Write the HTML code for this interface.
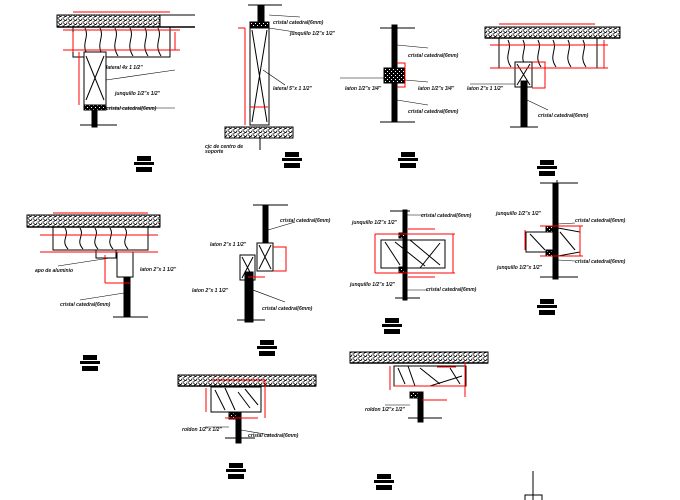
<!DOCTYPE html>
<html><head><meta charset="utf-8">
<style>
html,body{margin:0;padding:0;background:#fff;}
svg{display:block;}
text{font-family:"Liberation Sans",sans-serif;font-size:5px;font-style:italic;font-weight:bold;fill:#111;}
</style></head>
<body>
<svg width="680" height="500" viewBox="0 0 680 500" xmlns="http://www.w3.org/2000/svg">
<defs>
<pattern id="st" width="5" height="4" patternUnits="userSpaceOnUse">
<rect width="5" height="4" fill="#fff"/>
<rect x="0" y="0" width="1.5" height="1" fill="#000"/><rect x="2.5" y="1.5" width="1.5" height="1" fill="#000"/>
<rect x="1" y="2.8" width="1.2" height="1" fill="#000"/><rect x="4" y="0.3" width="1" height="1.2" fill="#000"/>
<rect x="3.5" y="3" width="1" height="1" fill="#000"/>
</pattern>
<pattern id="st2" width="4" height="4" patternUnits="userSpaceOnUse">
<rect width="4" height="4" fill="#000"/><rect x="1" y="1" width="1" height="1" fill="#fff"/><rect x="3" y="3" width="1" height="1" fill="#fff"/>
</pattern>
<g id="tb"><rect x="3" y="0" width="14" height="5" fill="#000"/><rect x="0" y="6" width="20" height="3" fill="#000"/><rect x="2" y="11" width="16" height="5" fill="#000"/></g>
</defs>
<g fill="none" stroke="#000" stroke-width="1">

<!-- Detail 1 -->
<rect x="57" y="15" width="103" height="12" fill="url(#st)"/>
<line x1="57" y1="27" x2="195" y2="27" stroke-width="1.4"/>
<line x1="57" y1="15" x2="195" y2="15"/>
<rect x="73" y="27" width="97" height="30"/>
<path d="M85 28c5 10-5 15 3 28M100 28c5 10-5 15 3 28M115 28c5 10-5 15 3 28M130 28c5 10-5 15 3 28M145 28c5 10-5 15 3 28M158 28c5 10-5 15 3 28"/>
<rect x="84" y="52" width="22" height="53" fill="#fff"/>
<path d="M86 56L104 100M104 56L86 100"/>
<rect x="84" y="105" width="22" height="5" fill="url(#st2)"/>
<rect x="92" y="110" width="5" height="17" fill="#000"/>
<line x1="80" y1="125" x2="117" y2="125"/>
<path d="M106 80L175 70M106 108L175 108" stroke-width="0.6"/>
<g stroke="#f00" stroke-width="1" shape-rendering="crispEdges"><path d="M73 12H170M63 30H180M63 50H180M73 32V52M175 32V50M79 52V105"/></g>

<!-- Detail 2 -->
<rect x="258" y="5" width="6" height="20" fill="#000"/>
<line x1="248" y1="5" x2="282" y2="5"/>
<rect x="250" y="22" width="19" height="5" fill="url(#st2)"/>
<rect x="250" y="28" width="19" height="97"/>
<path d="M252 30L267 122M267 30L252 122"/>
<rect x="225" y="127" width="68" height="11" fill="url(#st)"/>
<line x1="260" y1="138" x2="260" y2="150"/>
<path d="M269 15L300 17M269 28L295 32M263 70L285 85" stroke-width="0.6"/>
<g stroke="#f00" stroke-width="1" shape-rendering="crispEdges"><path d="M245 28V125M245 28H238M250 107H268"/></g>

<!-- Detail 3 -->
<rect x="392" y="25" width="5" height="97" fill="#000"/>
<line x1="380" y1="28" x2="415" y2="28"/><line x1="380" y1="122" x2="415" y2="122"/>
<rect x="384" y="68" width="21" height="15" fill="url(#st2)"/>
<path d="M397 45L428 48M405 80L428 82M397 100L428 105M384 78H340" stroke-width="0.6"/>
<g stroke="#f00" stroke-width="1" shape-rendering="crispEdges"><path d="M397 63H405V87H397"/></g>

<!-- Detail 4 -->
<rect x="485" y="27" width="135" height="11" fill="url(#st)"/>
<line x1="485" y1="38" x2="620" y2="38" stroke-width="1.4"/>
<rect x="499" y="38" width="98" height="30"/>
<path d="M508 40c5 10-5 15 3 27M523 40c5 10-5 15 3 27M538 40c5 10-5 15 3 27M553 40c5 10-5 15 3 27M568 40c5 10-5 15 3 27M583 40c5 10-5 15 3 27"/>
<rect x="515" y="62" width="17" height="25" fill="#fff"/>
<path d="M517 64L530 85M530 64L517 85"/>
<rect x="521" y="81" width="6" height="46" fill="#000"/>
<line x1="510" y1="127" x2="538" y2="127"/>
<path d="M527 100L548 110M515 84H470" stroke-width="0.6"/>
<g stroke="#f00" stroke-width="1" shape-rendering="crispEdges"><path d="M499 24H595M490 45H608M490 68H608M604 40V68M532 62H545V88H532"/></g>
<line x1="557" y1="180" x2="557" y2="215"/>
<line x1="543" y1="183" x2="577" y2="183"/>

<!-- Detail 5 -->
<rect x="27" y="215" width="133" height="12" fill="url(#st)"/>
<line x1="27" y1="227" x2="160" y2="227" stroke-width="1.4"/>
<rect x="53" y="227" width="95" height="23"/>
<path d="M65 228c5 8-5 12 3 21M80 228c5 8-5 12 3 21M95 228c5 8-5 12 3 21M110 228c5 8-5 12 3 21M125 228c5 8-5 12 3 21"/>
<rect x="96" y="250" width="20" height="8"/>
<rect x="117" y="252" width="16" height="25" fill="#fff"/>
<rect x="124" y="277" width="6" height="40" fill="#000"/>
<line x1="113" y1="317" x2="148" y2="317"/>
<path d="M58 266L110 258M80 300L124 293" stroke-width="0.6"/>
<g stroke="#f00" stroke-width="1" shape-rendering="crispEdges"><path d="M53 213H148M40 235H158M40 252H158M105 255V283M105 283H130"/></g>

<!-- Detail 6 -->
<rect x="263" y="205" width="5" height="50" fill="#000"/>
<rect x="257" y="243" width="16" height="28" fill="#fff"/>
<path d="M259 245L271 269M271 245L259 269"/>
<rect x="240" y="255" width="15" height="25" fill="#fff"/>
<path d="M242 257L253 278M253 257L242 278"/>
<rect x="245" y="272" width="8" height="50" fill="#000"/>
<line x1="237" y1="320" x2="265" y2="320"/><line x1="253" y1="205" x2="288" y2="205"/>
<path d="M268 230L295 222M253 290L285 302" stroke-width="0.6"/>
<g stroke="#f00" stroke-width="1" shape-rendering="crispEdges"><path d="M273 247H286V271H273M248 277H265"/></g>

<!-- Detail 7 -->
<rect x="403" y="210" width="4" height="90" fill="#000"/>
<line x1="390" y1="211" x2="410" y2="211"/><line x1="395" y1="298" x2="420" y2="298"/>
<rect x="399" y="233" width="6" height="5" fill="url(#st2)"/>
<rect x="399" y="267" width="6" height="5" fill="url(#st2)"/>
<path d="M381 240H445V268H381ZM385 242L400 265M395 242L425 266M410 240L440 265M420 268L440 243"/>
<g stroke="#f00" stroke-width="1" shape-rendering="crispEdges"><path d="M375 234H455M375 273H455M375 234V273M453 234V273M408 229H435M408 277H435"/></g>
<path d="M407 215L425 215M407 290L428 290" stroke-width="0.6"/>

<!-- Detail 8 -->
<rect x="553" y="183" width="5" height="96" fill="#000"/>
<line x1="540" y1="183" x2="578" y2="183"/><line x1="540" y1="277" x2="578" y2="277"/>
<rect x="546" y="226" width="7" height="6" fill="url(#st2)"/>
<rect x="546" y="250" width="7" height="6" fill="url(#st2)"/>
<path d="M526 232H553V252H526ZM558 228L580 232V252L558 256M530 234L545 250M560 232L575 250"/>
<g stroke="#f00" stroke-width="1" shape-rendering="crispEdges"><path d="M525 230V250M580 226V256M540 226H583M540 256H583"/></g>
<path d="M558 224L575 223M558 260L575 261" stroke-width="0.6"/>

<!-- Detail 9 -->
<rect x="178" y="375" width="138" height="11" fill="url(#st)"/>
<line x1="178" y1="386" x2="316" y2="386" stroke-width="1.4"/>
<rect x="211" y="387" width="50" height="25"/>
<path d="M215 390L225 410M225 388L235 410M238 392L250 408M245 389L258 405"/>
<rect x="229" y="413" width="8" height="6" fill="url(#st2)"/>
<rect x="236" y="413" width="5" height="30" fill="#000"/>
<line x1="225" y1="438" x2="255" y2="438"/>
<g stroke="#f00" stroke-width="1" shape-rendering="crispEdges"><path d="M211 380H265V418M206 388V412M225 418H258"/></g>
<path d="M229 427H205M241 430L270 435" stroke-width="0.6"/>

<!-- Detail 10 -->
<rect x="350" y="352" width="138" height="11" fill="url(#st)"/>
<line x1="350" y1="363" x2="488" y2="363" stroke-width="1.4"/>
<rect x="394" y="366" width="72" height="20"/>
<path d="M398 368L405 384M408 366L415 386M420 368L440 384M450 368L460 384M430 386L462 376"/>
<rect x="410" y="392" width="8" height="6" fill="url(#st2)"/>
<rect x="418" y="392" width="5" height="30" fill="#000"/>
<line x1="408" y1="418" x2="442" y2="418"/>
<g stroke="#f00" stroke-width="1" shape-rendering="crispEdges"><path d="M390 366V390M465 362V397M394 386H465M422 400H447M437 367H456"/></g>
<path d="M410 405H385" stroke-width="0.6"/>

<!-- bottom right -->
<line x1="533" y1="471" x2="533" y2="495"/>
<path d="M525 500V495H542V500M533 495V500"/>
</g>

<!-- title blocks -->
<use href="#tb" x="134" y="156"/>
<use href="#tb" x="282" y="152"/>
<use href="#tb" x="398" y="152"/>
<use href="#tb" x="537" y="160"/>
<use href="#tb" x="80" y="355"/>
<use href="#tb" x="257" y="340"/>
<use href="#tb" x="382" y="318"/>
<use href="#tb" x="537" y="299"/>
<use href="#tb" x="226" y="463"/>
<use href="#tb" x="374" y="474"/>

<!-- labels -->
<text x="106" y="69">lateral 4x 1 1/2"</text>
<text x="115" y="95">junquillo 1/2"x 1/2"</text>
<text x="106" y="110">cristal catedral(6mm)</text>
<text x="273" y="24">cristal catedral(6mm)</text>
<text x="290" y="35">junquillo 1/2"x 1/2"</text>
<text x="273" y="90">lateral 5"x 1 1/2"</text>
<text x="205" y="148">cjc de centro de</text>
<text x="205" y="153">soporte</text>
<text x="408" y="57">cristal catedral(6mm)</text>
<text x="418" y="90">laton 1/2"x 3/4"</text>
<text x="408" y="113">cristal catedral(6mm)</text>
<text x="345" y="90">laton 1/2"x 3/4"</text>
<text x="467" y="90">laton 2"x 1 1/2"</text>
<text x="538" y="117">cristal catedral(6mm)</text>
<text x="35" y="272">apo de aluminio</text>
<text x="140" y="271">laton 2"x 1 1/2"</text>
<text x="60" y="306">cristal catedral(6mm)</text>
<text x="210" y="246">laton 2"x 1 1/2"</text>
<text x="192" y="292">laton 2"x 1 1/2"</text>
<text x="280" y="222">cristal catedral(6mm)</text>
<text x="262" y="310">cristal catedral(6mm)</text>
<text x="352" y="224">junquillo 1/2"x 1/2"</text>
<text x="421" y="217">cristal catedral(6mm)</text>
<text x="350" y="286">junquillo 1/2"x 1/2"</text>
<text x="426" y="291">cristal catedral(6mm)</text>
<text x="496" y="215">junquillo 1/2"x 1/2"</text>
<text x="575" y="222">cristal catedral(6mm)</text>
<text x="497" y="269">junquillo 1/2"x 1/2"</text>
<text x="575" y="263">cristal catedral(6mm)</text>
<text x="182" y="431">roldon 1/2"x 1/2"</text>
<text x="248" y="437">cristal catedral(6mm)</text>
<text x="365" y="411">roldon 1/2"x 1/2"</text>
</svg>
</body></html>
